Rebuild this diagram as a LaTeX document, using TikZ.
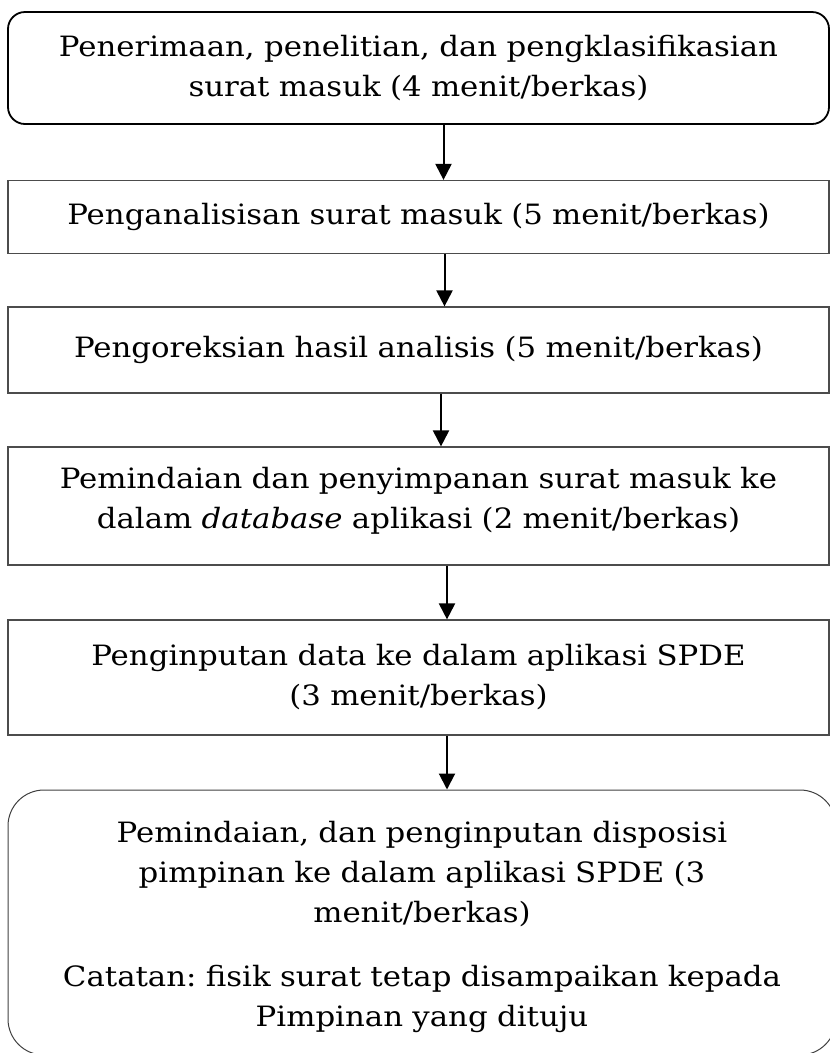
\documentclass[tikz,border=0pt]{standalone}
\usepackage{fontspec}
\setmainfont{DejaVu Serif}[FakeStretch=1.1]
\usetikzlibrary{positioning,arrows.meta}
\frenchspacing

\begin{document}
\begin{tikzpicture}[
        x=1pt, y=-1pt,
        startbox/.style={rectangle, rounded corners=17pt, draw=black, line width=1.8pt, minimum width=821pt, text width=810pt, align=center, inner sep=0pt},
        procbox/.style={rectangle, draw=black!70, line width=1.2pt, minimum width=821pt, text width=810pt, align=center, inner sep=0pt},
        endbox/.style={rectangle, rounded corners=36pt, draw=black!75, line width=1pt, minimum width=828pt, text width=810pt, align=center, inner sep=0pt},
        flow/.style={-{Triangle[width=16pt,length=16pt]}, line width=2pt, black},
        font=\fontsize{28}{40}\selectfont
    ]
    \useasboundingbox (0,0) rectangle (830,1053);
    \clip (0,0) rectangle (830,1053);

    % Boxes of the flow
    \node[startbox, minimum height=112pt] (b1) at (418.5, 68) {Penerimaan, penelitian, dan pengklasifikasian\\surat masuk (4 menit/berkas)};
    \node[procbox, minimum height=73pt] (b2) at (418.5, 217) {Penganalisisan surat masuk (5 menit/berkas)};
    \node[procbox, minimum height=86pt] (b3) at (418.5, 350) {Pengoreksian hasil analisis (5 menit/berkas)};
    \node[procbox, minimum height=118pt] (b4) at (418.5, 506) {Pemindaian dan penyimpanan surat masuk ke\\dalam \textit{database} aplikasi (2 menit/berkas)\\[-24pt]\mbox{}};
    \node[procbox, minimum height=115pt] (b5) at (418.5, 677.5) {Penginputan data ke dalam aplikasi SPDE\\(3 menit/berkas)};
    \node[endbox, minimum height=265pt] (b6) at (422, 922.5) {\mbox{}\\[-9pt]Pemindaian, dan penginputan disposisi\\pimpinan ke dalam aplikasi SPDE (3\\menit/berkas)\\[24pt]Catatan: fisik surat tetap disampaikan kepada\\Pimpinan yang dituju};

    % Arrows
    \draw[flow] ([xshift=25pt]b1.south) -- ([xshift=25pt]b2.north);
    \draw[flow] ([xshift=26pt]b2.south) -- ([xshift=26pt]b3.north);
    \draw[flow] ([xshift=22.5pt]b3.south) -- ([xshift=22.5pt]b4.north);
    \draw[flow] ([xshift=28.5pt]b4.south) -- ([xshift=28.5pt]b5.north);
    \draw[flow] ([xshift=28.5pt]b5.south) -- ([xshift=25pt]b6.north);
\end{tikzpicture}
\end{document}
